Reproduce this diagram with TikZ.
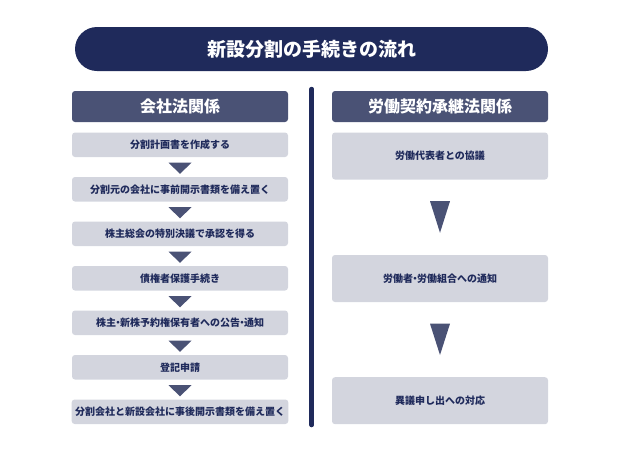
\documentclass[tikz,border=0pt]{standalone}
\usepackage{fontspec}
\newfontfamily\jpfont{Noto Sans CJK JP}
\usetikzlibrary{calc}

\definecolor{navy}{HTML}{1F2A5B}
\definecolor{slate}{HTML}{4A5275}
\definecolor{boxgray}{HTML}{D3D5DE}

% narrow middle dot
\newcommand{\ndot}{\kern-0.3em・\kern-0.3em}

\tikzset{
    titlebar/.style={fill=navy, text=white, rounded corners=22pt, minimum width=473pt, minimum height=44pt, font=\jpfont\bfseries\fontsize{19}{19}\selectfont},
    headbox/.style={fill=slate, text=white, rounded corners=3pt, minimum width=216pt, minimum height=31pt, font=\jpfont\bfseries\fontsize{16}{16}\selectfont},
    stepbox/.style={fill=boxgray, text=navy, rounded corners=3pt, minimum width=216pt, minimum height=24.5pt, font=\jpfont\bfseries\fontsize{10}{10}\selectfont},
    bigbox/.style={stepbox, minimum height=47pt},
    tri/.style={fill=slate}
}

\begin{document}
\begin{tikzpicture}[x=1pt, y=-1pt]

    \useasboundingbox (0,0) rectangle (621,461);

    % Title
    \node[titlebar] (title) at (311.5,49) {新設分割の手続きの流れ};

    % Divider
    \draw[navy, line width=4.5pt, line cap=round] (311.7,89) -- (311.7,425);

    % Headers
    \node[headbox] (lhead) at (180,106.5) {会社法関係};
    \node[headbox] (rhead) at (440,106.5) {労働契約承継法関係};

    % Left steps
    \foreach \i/\txt in {1/分割計画書を作成する,
                         2/分割元の会社に事前開示書類を備え置く,
                         3/株主総会の特別決議で承認を得る,
                         4/債権者保護手続き,
                         5/株主\ndot 新株予約権保有者への公告\ndot 通知,
                         6/登記申請,
                         7/分割会社と新設会社に事後開示書類を備え置く}
        \node[stepbox] (l\i) at (180,{144.75+44.5*(\i-1)}) {\txt};

    % Left arrows
    \foreach \i [evaluate=\i as \j using int(\i+1)] in {1,...,6}
        \fill[tri] ($(l\i.south)+(-11.5,5.5)$) -- ($(l\i.south)+(11.5,5.5)$)
            -- ($(l\j.north)+(0,-3)$) -- cycle;

    % Right steps
    \node[bigbox] (r1) at (440,156) {労働代表者との協議};
    \node[bigbox] (r2) at (440,278.5) {労働者\ndot 労働組合への通知};
    \node[bigbox] (r3) at (440,400.7) {異議申し出への対応};

    % Right arrows
    \fill[tri] ($(r1.south)+(-10,21.5)$) -- ($(r1.south)+(10,21.5)$)
        -- ($(r2.north)+(0,-22)$) -- cycle;
    \fill[tri] ($(r2.south)+(-10,21.5)$) -- ($(r2.south)+(10,21.5)$)
        -- ($(r3.north)+(0,-22)$) -- cycle;

\end{tikzpicture}
\end{document}
